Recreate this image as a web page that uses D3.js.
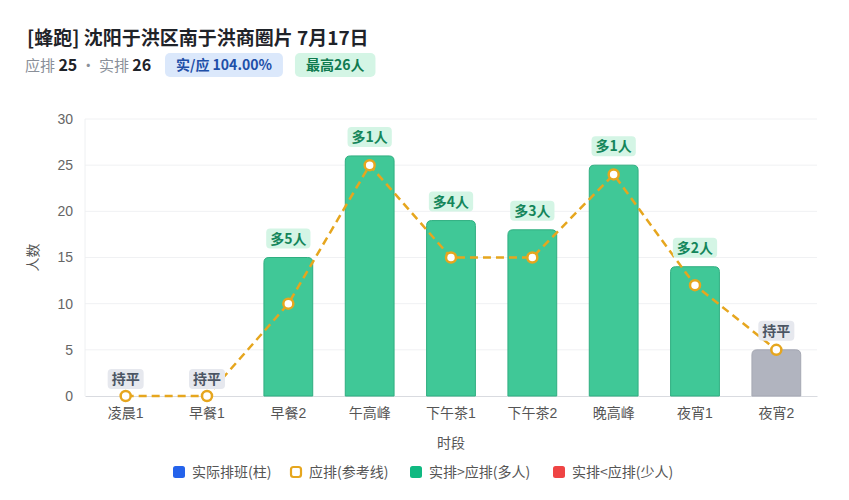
<!DOCTYPE html>
<html>
<head>
<meta charset="utf-8">
<script src="https://cdn.jsdelivr.net/npm/d3@7"></script>
<style>
  body { margin: 0; background: #fff; font-family: "Noto Sans CJK SC", "Noto Sans", sans-serif; }
</style>
</head>
<body>
<svg id="chart" width="849" height="500"></svg>
<script>
/** data **/
const slots = ["凌晨1", "早餐1", "早餐2", "午高峰", "下午茶1", "下午茶2", "晚高峰", "夜宵1", "夜宵2"];
const actual = [0, 0, 15, 26, 19, 18, 25, 14, 5];
const planned = [0, 0, 10, 25, 15, 15, 24, 12, 5];
const yTicks = [0, 5, 10, 15, 20, 25, 30];
const legendItems = ["实际排班(柱)", "应排(参考线)", "实排>应排(多人)", "实排<应排(少人)"];

const titleText = "[蜂跑] 沈阳于洪区南于洪商圈片 7月17日";
const peakPlanned = d3.max(planned);
const peakActual = d3.max(actual);

const svg = d3.select("#chart");
const font = '"Noto Sans CJK SC", "Noto Sans", sans-serif';
const tickFont = '"Liberation Sans", "Noto Sans CJK SC", sans-serif';

// header
svg.append("text")
    .attr("x", 27).attr("y", 45)
    .attr("font-size", 19).attr("font-weight", 700).attr("fill", "#1f2329")
    .attr("font-family", font)
    .text(titleText);

const sub = svg.append("text")
    .attr("x", 25).attr("y", 71)
    .attr("font-size", 15).attr("fill", "#8a8f99")
    .attr("font-family", font);
sub.append("tspan").text("应排 ");
sub.append("tspan").attr("font-weight", 700).attr("fill", "#1f2329").attr("font-size", 16).text(peakPlanned);
sub.append("tspan").text(" · 实排 ");
sub.append("tspan").attr("font-weight", 700).attr("fill", "#1f2329").attr("font-size", 16).text(peakActual);

function badge(x, txt, bg, fg) {
    const g = svg.append("g");
    const t = g.append("text")
        .attr("x", x + 11).attr("y", 70)
        .attr("font-size", 14).attr("font-weight", 700).attr("fill", fg)
        .attr("font-family", font)
        .text(txt);
    const w = t.node().getComputedTextLength();
    g.insert("rect", "text")
        .attr("x", x).attr("y", 53).attr("width", w + 22).attr("height", 24)
        .attr("rx", 5).attr("fill", bg);
    return x + w + 22;
}
const b1 = badge(165, `实/应 ${(peakActual / peakPlanned * 100).toFixed(2)}%`, "#dbe8fb", "#1e4fa8");
badge(b1 + 12, `最高${peakActual}人`, "#d4f5e5", "#0f7a4f");

// chart
const margin = { left: 85, right: 32, top: 119, bottom: 104 };
const width = 849 - margin.left - margin.right;
const height = 500 - margin.top - margin.bottom;
const g = svg.append("g").attr("transform", `translate(${margin.left},${margin.top})`);

const x = d3.scaleBand().domain(slots).range([0, width]).paddingInner(0.4).paddingOuter(0.2);
const y = d3.scaleLinear().domain([0, 30]).range([height, 0]);

// grid
g.append("g").selectAll("line").data(yTicks.filter(d => d > 0)).join("line")
    .attr("x1", 0).attr("x2", width)
    .attr("y1", d => y(d)).attr("y2", d => y(d))
    .attr("stroke", "#f0f1f3").attr("stroke-width", 1);

g.append("line").attr("x1", 0).attr("x2", 0).attr("y1", 0).attr("y2", height)
    .attr("stroke", "#eef0f2");

const yAxis = g.append("g").call(d3.axisLeft(y).tickValues(yTicks).tickSize(0).tickPadding(12));
yAxis.select(".domain").remove();
yAxis.selectAll("text").attr("font-size", 14).attr("fill", "#666").attr("font-family", tickFont);

const xAxis = g.append("g").attr("transform", `translate(0,${height})`)
    .call(d3.axisBottom(x).tickSize(0).tickPadding(12));
xAxis.select(".domain").attr("stroke", "#d9dbe0");
xAxis.selectAll("text").attr("font-size", 14).attr("fill", "#555").attr("font-family", tickFont);

g.append("text")
    .attr("transform", `translate(${38 - margin.left},${height / 2}) rotate(-90)`)
    .attr("text-anchor", "middle")
    .attr("font-size", 14).attr("fill", "#555").attr("font-family", font)
    .text("人数");
g.append("text")
    .attr("x", width / 2).attr("y", height + 52)
    .attr("text-anchor", "middle")
    .attr("font-size", 14).attr("fill", "#555").attr("font-family", font)
    .text("时段");

// bars (rounded top)
function barPath(x0, y0, w, h, r) {
    r = Math.min(r, h, w / 2);
    return `M${x0},${y0 + h}V${y0 + r}Q${x0},${y0} ${x0 + r},${y0}H${x0 + w - r}Q${x0 + w},${y0} ${x0 + w},${y0 + r}V${y0 + h}Z`;
}
function barColor(i) {
    if (actual[i] > planned[i]) return ["#40c897", "#2fae80"];
    if (actual[i] < planned[i]) return ["#ef4444", "#d63333"];
    return ["#b1b4bf", "#a5a8b3"];
}
g.append("g").selectAll("path").data(slots).join("path")
    .attr("d", (s, i) => actual[i] > 0 ? barPath(x(s), y(actual[i]), x.bandwidth(), height - y(actual[i]), 5) : null)
    .attr("fill", (s, i) => barColor(i)[0])
    .attr("stroke", (s, i) => barColor(i)[1])
    .attr("stroke-width", 1);

// planned line
const cx = s => x(s) + x.bandwidth() / 2;
const line = d3.line().x((d, i) => cx(slots[i])).y(d => y(d));
g.append("path").datum(planned)
    .attr("d", line)
    .attr("fill", "none")
    .attr("stroke", "#e6a61e")
    .attr("stroke-width", 2.5)
    .attr("stroke-dasharray", "8,5");
g.append("g").selectAll("circle").data(planned).join("circle")
    .attr("cx", (d, i) => cx(slots[i]))
    .attr("cy", d => y(d))
    .attr("r", 5)
    .attr("fill", "#fff")
    .attr("stroke", "#e6a61e")
    .attr("stroke-width", 2.5);

// diff labels
const labels = g.append("g");
slots.forEach((s, i) => {
    const diff = actual[i] - planned[i];
    const txt = diff > 0 ? `多${diff}人` : diff < 0 ? `少${-diff}人` : "持平";
    const bg = diff > 0 ? "#d4f5e5" : diff < 0 ? "#fde2e2" : "#e6e8ee";
    const fg = diff > 0 ? "#13855a" : diff < 0 ? "#c53030" : "#4b5563";
    const top = y(Math.max(actual[i], planned[i]));
    const cy = top - (actual[i] > 0 ? 19 : 17);
    const lg = labels.append("g");
    const t = lg.append("text")
        .attr("x", cx(s)).attr("y", cy + 5)
        .attr("text-anchor", "middle")
        .attr("font-size", 14).attr("font-weight", 700).attr("fill", fg)
        .attr("font-family", font)
        .text(txt);
    const w = t.node().getComputedTextLength();
    lg.insert("rect", "text")
        .attr("x", cx(s) - w / 2 - 4).attr("y", cy - 10)
        .attr("width", w + 8).attr("height", 20)
        .attr("rx", 4).attr("fill", bg);
});

// legend
const legendColors = ["#2563eb", "#e6a61e", "#10b981", "#ef4444"];
const lx = [173, 290, 410, 553];
const leg = svg.append("g");
legendItems.forEach((name, i) => {
    const hollow = i === 1;
    leg.append("rect")
        .attr("x", lx[i] + (hollow ? 1 : 0)).attr("y", 466 + (hollow ? 1 : 0))
        .attr("width", hollow ? 10 : 12).attr("height", hollow ? 10 : 12)
        .attr("rx", 2.5)
        .attr("fill", hollow ? "#fff" : legendColors[i])
        .attr("stroke", hollow ? legendColors[i] : "none")
        .attr("stroke-width", 2.2);
    leg.append("text")
        .attr("x", lx[i] + 19).attr("y", 477)
        .attr("font-size", 14).attr("fill", "#555").attr("font-family", font)
        .text(name);
});
</script>
</body>
</html>
